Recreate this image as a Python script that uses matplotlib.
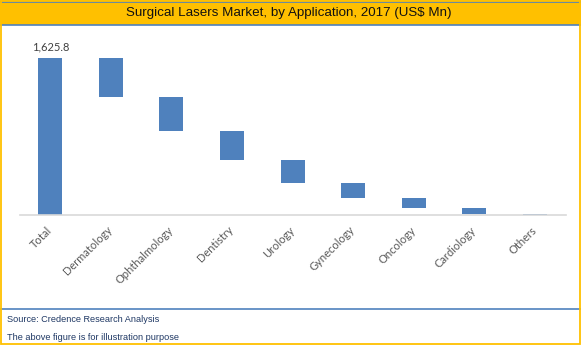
import matplotlib
matplotlib.use("Agg")
import matplotlib.pyplot as plt
from matplotlib.patches import Rectangle
from matplotlib.lines import Line2D
from matplotlib.transforms import ScaledTranslation

categories = ["Total", "Dermatology", "Ophthalmology", "Dentistry", "Urology",
              "Gynecology", "Oncology", "Cardiology", "Others"]
total = 1625.8
segments = [404.0, 349.0, 300.0, 238.0, 155.0, 104.0, 62.0, 13.8]
title = "Surgical Lasers Market, by Application, 2017 (US$ Mn)"
source = "Source: Credence Research Analysis"
note = "The above figure is for illustration purpose"

W, H = 581, 345
fig = plt.figure(figsize=(W / 100, H / 100), dpi=100)

def fx(px):
    return px / W

def fy(py):
    return 1 - py / H

gold = "#FFC000"
blue_line = "#4F81BD"
bar_color = "#4F81BD"

# title band
fig.patches.append(Rectangle((0, fy(24.5)), 1, fy(0) - fy(24.5), transform=fig.transFigure,
                             facecolor=gold, edgecolor="none", zorder=0))
fig.lines.append(Line2D([0, 1], [fy(1.5), fy(1.5)], transform=fig.transFigure, color=blue_line, lw=1.2))
fig.lines.append(Line2D([0, 1], [fy(24.5), fy(24.5)], transform=fig.transFigure, color=blue_line, lw=1.2))
fig.lines.append(Line2D([0, 1], [fy(308.5), fy(308.5)], transform=fig.transFigure, color=blue_line, lw=1.2))
# gold outer border
fig.patches.append(Rectangle((fx(0.6), fy(344.2)), fx(579.6), fy(0.8) - fy(344.2), transform=fig.transFigure,
                             facecolor="none", edgecolor=gold, lw=1.3, zorder=5))

fig.text(0.497, fy(13.3), title, ha="center", va="center", fontsize=9.6,
         family="Liberation Sans", color="#111111")
fig.text(fx(7), fy(319.5), source, ha="left", va="center", fontsize=6.6,
         family="Liberation Sans", color="#1F3864")
fig.text(fx(7), fy(337), note, ha="left", va="center", fontsize=6.6,
         family="Liberation Sans", color="#1F3864")

# axes
ax_left, ax_right, ax_top, ax_bot = 20, 566, 30, 215
ax = fig.add_axes([fx(ax_left), fy(ax_bot), fx(ax_right - ax_left), fy(ax_top) - fy(ax_bot)])
x = list(range(len(categories)))
bottoms = [0.0]
heights = [total]
level = total
for s in segments:
    level -= s
    bottoms.append(level)
    heights.append(s)
ax.bar(x, heights, bottom=bottoms, width=0.395, color=bar_color, zorder=2)
ax.set_xlim(-0.495, 8.51)
ax.set_ylim(0, total * (ax_bot - ax_top) / 157.0)
ax.annotate(f"{total:,.1f}", xy=(0, total), xytext=(0.5, 8), textcoords="offset points",
            ha="center", va="center", fontsize=8, family="Lato", color="#404040")

for sp in ["top", "right", "left"]:
    ax.spines[sp].set_visible(False)
ax.spines["bottom"].set_color("#D9D9D9")
ax.spines["bottom"].set_linewidth(1.2)
ax.set_yticks([])
ax.set_xticks(x)
ax.set_xticklabels(categories, rotation=45, ha="right", va="top", rotation_mode="anchor",
                   fontsize=8, family="Lato", color="#595959")
ax.tick_params(axis="x", length=0, pad=6)
off = ScaledTranslation(-4 / 100, -1 / 100, fig.dpi_scale_trans)
for lbl in ax.get_xticklabels():
    lbl.set_transform(lbl.get_transform() + off)
ax.patch.set_visible(False)

fig.savefig("out.png", dpi=100)
